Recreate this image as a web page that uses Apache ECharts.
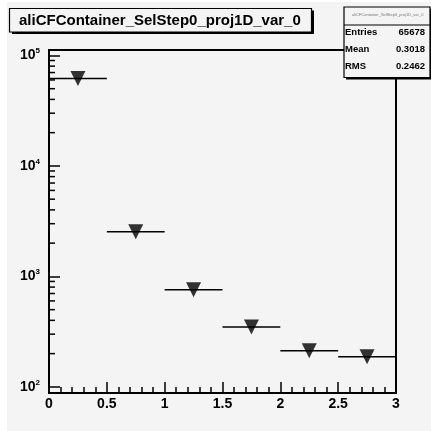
<!DOCTYPE html>
<html>
<head>
<meta charset="utf-8">
<script src="https://cdn.jsdelivr.net/npm/echarts@6/dist/echarts.min.js"></script>
<style>
  html, body { margin: 0; padding: 0; background: #fff; }
  #chart { width: 431px; height: 431px; }
</style>
</head>
<body>
<div id="chart"></div>
<script>
// histogram bins (x) and contents (y)
const binLow    = [0, 0.5, 1, 1.5, 2, 2.5];
const binHigh   = [0.5, 1, 1.5, 2, 2.5, 3];
const binCenter = [0.25, 0.75, 1.25, 1.75, 2.25, 2.75];
const counts    = [61700, 2530, 755, 349, 212, 187];

// log-axis minor ticks (2..9 in each decade)
const minorMult   = [2, 3, 4, 5, 6, 7, 8, 9];
const minorDecade = [100, 1000, 10000];

const histName    = 'aliCFContainer_SelStep0_proj1D_var_0';
const statsLabels = ['Entries', 'Mean', 'RMS'];
const statsValues = ['65678', '0.3018', '0.2462'];

const FONT = '"Liberation Sans", Arial, sans-serif';
const BG = '#f4f4f4';

const yMinor = [];
minorDecade.forEach(d => minorMult.forEach(m => yMinor.push([0, m * d])));

const chart = echarts.init(document.getElementById('chart'));

const statsGraphics = [];
statsLabels.forEach((lab, i) => {
  statsGraphics.push({
    type: 'text', left: 345, top: 27 + i * 17, z: 20,
    style: { text: lab, font: 'bold 9.5px ' + FONT, fill: '#000' }
  });
  statsGraphics.push({
    type: 'text', right: 6, top: 27 + i * 17, z: 20,
    style: { text: statsValues[i], font: 'bold 9.5px ' + FONT, fill: '#000', textAlign: 'right' }
  });
});

const option = {
  backgroundColor: 'transparent',
  animation: false,
  grid: {
    left: 49, right: 35, top: 50, bottom: 38,
    show: true, borderColor: '#000', borderWidth: 2,
    backgroundColor: 'transparent'
  },
  xAxis: {
    type: 'value', min: 0, max: 3, interval: 0.5,
    axisLine: { show: true, onZero: false, lineStyle: { color: '#000', width: 2 } },
    axisTick: { show: true, inside: true, length: 11, lineStyle: { color: '#000', width: 1.5 } },
    minorTick: { show: true, splitNumber: 5, length: 6, lineStyle: { color: '#000', width: 1.5 } },
    axisLabel: { margin: 4, color: '#000', fontSize: 14, fontWeight: 'bold', fontFamily: FONT,
      formatter: v => String(v) },
    splitLine: { show: false }
  },
  yAxis: {
    type: 'log', logBase: 10, min: 88, max: 112000,
    axisLine: { show: true, lineStyle: { color: '#000', width: 2 } },
    axisTick: { show: true, inside: true, length: 11, lineStyle: { color: '#000', width: 1.5 } },
    axisLabel: {
      margin: 9,
      formatter: v => {
        const l = Math.log10(v);
        const e = Math.round(l);
        if (Math.abs(l - e) > 1e-6) return '';
        return '{b|10}{s|' + e + '}';
      },
      rich: {
        b: { fontSize: 14, fontWeight: 'bold', color: '#000', fontFamily: FONT },
        s: { fontSize: 8, fontWeight: 'bold', color: '#000', fontFamily: FONT,
             verticalAlign: 'bottom', padding: [0, 0, 9, 0] }
      }
    },
    splitLine: { show: false }
  },
  series: [
    {
      name: 'minorTicks',
      type: 'custom',
      silent: true,
      data: yMinor,
      renderItem: (params, api) => {
        const p = api.coord([0, api.value(1)]);
        return {
          type: 'line',
          shape: { x1: p[0], y1: p[1], x2: p[0] + 6, y2: p[1] },
          style: { stroke: '#000', lineWidth: 1.5 }
        };
      }
    },
    {
      name: 'binWidth',
      type: 'custom',
      data: binLow.map((lo, i) => [lo, binHigh[i], counts[i]]),
      encode: { x: [0, 1], y: 2 },
      renderItem: (params, api) => {
        const a = api.coord([api.value(0), api.value(2)]);
        const b = api.coord([api.value(1), api.value(2)]);
        return {
          type: 'line',
          shape: { x1: a[0], y1: a[1], x2: b[0], y2: b[1] },
          style: { stroke: '#000', lineWidth: 1.5 }
        };
      }
    },
    {
      name: 'hist',
      type: 'scatter',
      symbol: 'triangle',
      symbolRotate: 180,
      symbolSize: [15, 15],
      itemStyle: { color: '#000' },
      data: binCenter.map((x, i) => [x, counts[i]]),
      z: 5
    }
  ],
  graphic: [
    { type: 'rect', z: -10, silent: true, shape: { x: 7, y: 2, width: 424, height: 429 }, style: { fill: BG } },
    // title box with shadow
    { type: 'rect', z: 10, shape: { x: 12, y: 10.5, width: 302, height: 23.5 }, style: { fill: '#000' } },
    { type: 'rect', z: 11, shape: { x: 9.5, y: 8.5, width: 302, height: 23.5 }, style: { fill: BG, stroke: '#000', lineWidth: 1.2 } },
    { type: 'text', z: 12, left: 19, top: 13, style: { text: histName, font: 'bold 15px ' + FONT, fill: '#000' } },
    // stats box with shadow
    { type: 'rect', z: 18, shape: { x: 346, y: 9, width: 86, height: 70.5 }, style: { fill: '#000' } },
    { type: 'rect', z: 19, shape: { x: 344, y: 7, width: 86, height: 70.5 }, style: { fill: BG, stroke: '#000', lineWidth: 1.2 } },
    { type: 'line', z: 20, shape: { x1: 344, y1: 25, x2: 430, y2: 25 }, style: { stroke: '#000', lineWidth: 1.2 } },
    { type: 'text', z: 20, left: 352, top: 13, style: { text: histName, font: '4px ' + FONT, fill: '#777' } }
  ].concat(statsGraphics)
};

chart.setOption(option);
</script>
</body>
</html>
